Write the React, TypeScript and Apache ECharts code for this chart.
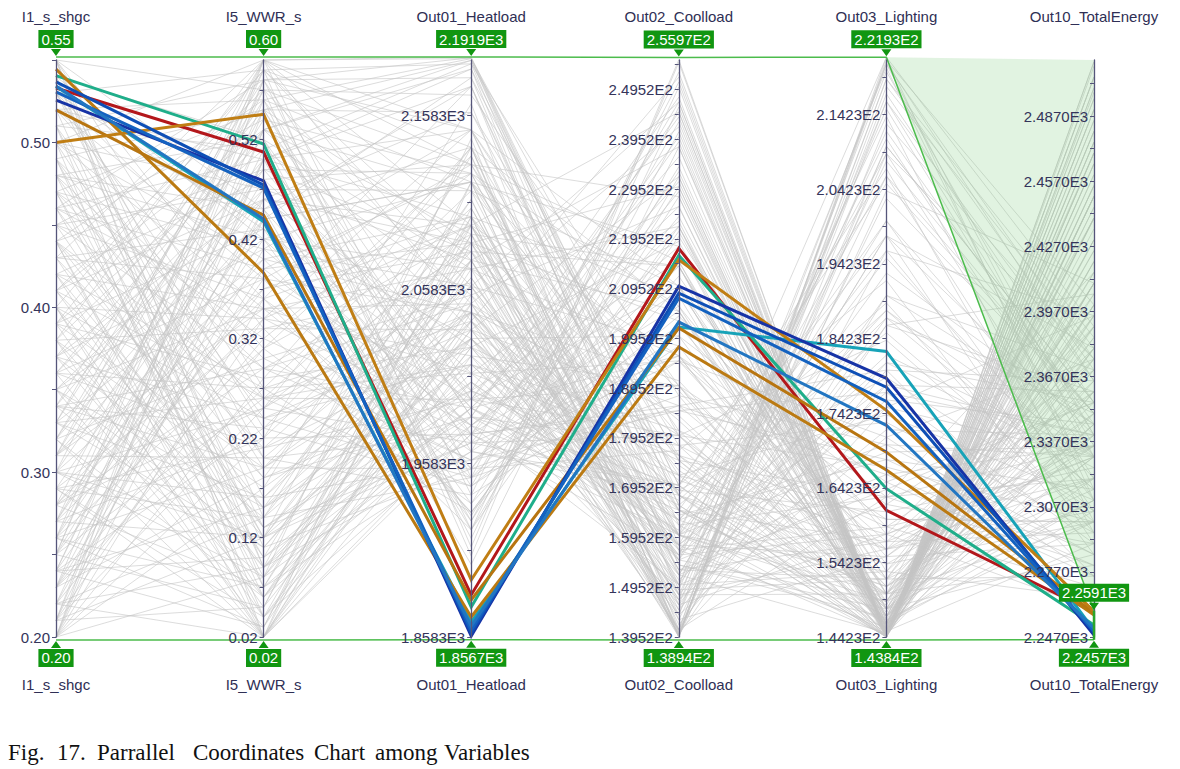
import React, { useEffect, useRef } from "react";
import * as echarts from "echarts";

// ---------- data ----------
const dimNames = ["I1_s_shgc", "I5_WWR_s", "Out01_Heatload", "Out02_Coolload", "Out03_Lighting", "Out10_TotalEnergy"];
const axisMin = [0.2, 0.02, 1858.3, 139.52, 144.23, 2247.0];
const axisMax = [0.55, 0.6, 2190.2, 255.45, 221.55, 2512.8];

const labelTicks = [
  [0.2, 0.3, 0.4, 0.5],
  [0.02, 0.12, 0.22, 0.32, 0.42, 0.52],
  [1858.3, 1958.3, 2058.3, 2158.3],
  [139.52, 149.52, 159.52, 169.52, 179.52, 189.52, 199.52, 209.52, 219.52, 229.52, 239.52, 249.52],
  [144.23, 154.23, 164.23, 174.23, 184.23, 194.23, 204.23, 214.23],
  [2247, 2277, 2307, 2337, 2367, 2397, 2427, 2457, 2487],
];
const allTicks = [
  [0.2, 0.25, 0.3, 0.35, 0.4, 0.45, 0.5, 0.55],
  [0.02, 0.07, 0.12, 0.17, 0.22, 0.27, 0.32, 0.37, 0.42, 0.47, 0.52, 0.57],
  [1858.3, 1908.3, 1958.3, 2008.3, 2058.3, 2108.3, 2158.3],
  [139.52, 144.52, 149.52, 154.52, 159.52, 164.52, 169.52, 174.52, 179.52, 184.52, 189.52, 194.52, 199.52, 204.52, 209.52, 214.52, 219.52, 224.52, 229.52, 234.52, 239.52, 244.52, 249.52, 254.52],
  [144.23, 149.23, 154.23, 159.23, 164.23, 169.23, 174.23, 179.23, 184.23, 189.23, 194.23, 199.23, 204.23, 209.23, 214.23, 219.23],
  [2247, 2262, 2277, 2292, 2307, 2322, 2337, 2352, 2367, 2382, 2397, 2412, 2427, 2442, 2457, 2472, 2487, 2502],
];

// filter (brush) limits shown in the green boxes
const filterMax = [0.5518, 0.603, 2191.9, 255.97, 221.93, 2259.1];
const filterMin = [0.1982, 0.017, 1856.7, 138.94, 143.84, 2245.7];

// highlighted (selected) designs
const highlightColors = ["#b3171b", "#1fae8a", "#17a3b8", "#bb7a12", "#b87510", "#c07e14", "#1733a6", "#0e4fb6", "#1462c0", "#2276c2"];
const highlightLines = [
  [0.533, 0.5075, 1882.5, 217.6, 161.2, 2258.5],
  [0.5405, 0.5156, 1875.6, 216.2, 164.1, 2252.5],
  [0.534, 0.4375, 1866.9, 201.8, 182.5, 2250.2],
  [0.5445, 0.386, 1869.8, 197.8, 166.6, 2257.1],
  [0.5197, 0.444, 1879.6, 201.6, 169.0, 2258.0],
  [0.5, 0.5454, 1891.1, 215.3, 174.6, 2258.8],
  [0.5257, 0.4784, 1858.9, 210.0, 178.9, 2247.9],
  [0.5367, 0.4743, 1860.6, 208.6, 177.7, 2249.3],
  [0.5306, 0.4713, 1862.3, 207.6, 175.8, 2249.8],
  [0.5342, 0.4402, 1864.6, 202.8, 172.6, 2251.1],
];

// background designs (grey)
const greyLines = [
  [0.21, 0.05, 2105, 152, 198, 2380], [0.34, 0.58, 2150, 181, 146, 2410], [0.47, 0.12, 1985, 170, 205, 2350],
  [0.29, 0.33, 2062, 163, 151, 2320], [0.53, 0.47, 1920, 232, 145, 2290], [0.24, 0.51, 2188, 158, 144.5, 2455],
  [0.42, 0.27, 2010, 176, 160, 2300], [0.38, 0.02, 2030, 141, 219, 2370], [0.26, 0.19, 2080, 147, 172, 2340],
  [0.5, 0.6, 1950, 251, 144.3, 2395], [0.31, 0.44, 2120, 189, 147, 2430], [0.45, 0.36, 1965, 205, 149, 2310],
  [0.2, 0.28, 2140, 143, 155, 2360], [0.55, 0.09, 1990, 167, 188, 2315], [0.36, 0.53, 2090, 214, 144.6, 2470],
  [0.28, 0.07, 2070, 140, 210, 2355], [0.49, 0.22, 1975, 186, 166, 2280], [0.33, 0.4, 2045, 184, 148, 2345],
  [0.23, 0.56, 2191, 166, 144.2, 2500], [0.41, 0.15, 2015, 158, 181, 2325], [0.52, 0.31, 1935, 212, 152, 2275],
  [0.27, 0.48, 2130, 172, 145, 2440], [0.44, 0.04, 2005, 149, 215, 2335], [0.3, 0.25, 2060, 156, 158, 2330],
  [0.39, 0.59, 2075, 238, 144.4, 2480], [0.22, 0.14, 2110, 142, 180, 2365], [0.54, 0.42, 1925, 228, 146, 2305],
  [0.35, 0.11, 2040, 155, 193, 2345], [0.46, 0.5, 1995, 236, 144.8, 2420], [0.25, 0.37, 2100, 160, 150, 2385],
  [0.32, 0.02, 2050, 139.6, 221, 2375], [0.48, 0.29, 1960, 195, 157, 2295], [0.2, 0.6, 2191.9, 170, 144.23, 2512],
  [0.43, 0.18, 2000, 172, 174, 2310], [0.37, 0.46, 2085, 203, 146, 2425], [0.51, 0.13, 1970, 180, 184, 2300],
  [0.28, 0.55, 2160, 178, 144.3, 2465], [0.4, 0.34, 2020, 190, 151, 2340], [0.24, 0.23, 2095, 150, 162, 2370],
  [0.55, 0.57, 1905, 255, 144.5, 2390], [0.34, 0.08, 2035, 145, 206, 2350], [0.47, 0.41, 1980, 218, 147, 2330],
  [0.21, 0.45, 2175, 157, 145.5, 2460], [0.3, 0.16, 2065, 151, 176, 2345], [0.53, 0.26, 1945, 204, 159, 2270],
  [0.38, 0.52, 2070, 222, 144.4, 2450], [0.26, 0.03, 2085, 139.8, 218, 2380], [0.44, 0.49, 1990, 231, 145.2, 2405],
  [0.32, 0.3, 2055, 168, 154, 2335], [0.49, 0.06, 1985, 161, 209, 2320], [0.23, 0.39, 2125, 155, 149, 2400],
  [0.41, 0.57, 2050, 242, 144.2, 2475], [0.36, 0.21, 2025, 164, 168, 2315], [0.52, 0.38, 1930, 221, 148, 2285],
  [0.27, 0.12, 2075, 146, 186, 2360], [0.45, 0.54, 1985, 240, 144.3, 2440], [0.2, 0.17, 2135, 140.5, 175, 2395],
  [0.39, 0.43, 2030, 200, 147, 2380], [0.31, 0.59, 2140, 205, 144.25, 2495], [0.5, 0.19, 1955, 188, 170, 2285],
  [0.35, 0.35, 2050, 180, 150, 2355], [0.22, 0.02, 2120, 139.52, 221.5, 2400], [0.54, 0.52, 1915, 246, 144.6, 2350],
  [0.29, 0.47, 2115, 180, 145.8, 2445], [0.43, 0.1, 2005, 160, 195, 2320], [0.33, 0.26, 2045, 165, 157, 2330],
  [0.48, 0.45, 1970, 229, 146, 2360], [0.25, 0.58, 2180, 175, 144.23, 2505], [0.4, 0.05, 2025, 150, 212, 2345],
  [0.55, 0.33, 1920, 220, 153, 2265], [0.28, 0.29, 2080, 158, 155, 2350], [0.37, 0.14, 2030, 157, 182, 2330],
  [0.46, 0.58, 2000, 248, 144.3, 2460], [0.21, 0.34, 2150, 149, 152, 2405], [0.42, 0.48, 2010, 223, 145.5, 2415],
  [0.3, 0.08, 2060, 143, 203, 2350], [0.51, 0.24, 1950, 200, 163, 2280], [0.34, 0.5, 2100, 208, 145, 2450],
  [0.24, 0.1, 2100, 141, 190, 2370], [0.47, 0.32, 1975, 206, 154, 2300], [0.38, 0.6, 2095, 245, 144.23, 2490],
  [0.26, 0.42, 2120, 165, 147, 2420], [0.53, 0.16, 1960, 185, 177, 2290], [0.31, 0.2, 2060, 155, 166, 2335],
  [0.44, 0.26, 1995, 190, 160, 2300], [0.2, 0.5, 2185, 152, 144.8, 2475], [0.36, 0.38, 2045, 191, 149, 2370],
  [0.49, 0.55, 1965, 247, 144.4, 2420], [0.27, 0.22, 2085, 153, 164, 2355], [0.4, 0.02, 2020, 144, 220, 2340],
  [0.52, 0.44, 1935, 234, 146, 2320], [0.23, 0.27, 2115, 148, 156, 2380], [0.45, 0.13, 1995, 166, 185, 2305],
  [0.33, 0.56, 2120, 218, 144.3, 2485], [0.29, 0.04, 2075, 140, 216, 2365], [0.54, 0.2, 1940, 195, 171, 2275],
  [0.39, 0.28, 2025, 178, 156, 2320], [0.22, 0.41, 2150, 154, 148, 2425], [0.48, 0.08, 1980, 165, 200, 2305],
  [0.35, 0.47, 2075, 205, 146, 2435], [0.25, 0.6, 2191, 180, 144.23, 2510], [0.43, 0.38, 1995, 210, 150, 2345],
  [0.3, 0.12, 2065, 147, 187, 2350], [0.51, 0.51, 1945, 243, 145, 2375], [0.37, 0.24, 2035, 169, 161, 2325],
  [0.2, 0.08, 2145, 139.6, 204, 2410], [0.46, 0.18, 1985, 178, 173, 2295], [0.32, 0.53, 2115, 210, 144.4, 2470],
  [0.55, 0.02, 1975, 160, 221.9, 2310], [0.28, 0.36, 2095, 168, 150, 2390], [0.41, 0.53, 2035, 232, 144.5, 2445],
  [0.24, 0.15, 2095, 145, 178, 2360], [0.5, 0.4, 1955, 224, 148, 2310], [0.34, 0.19, 2045, 160, 169, 2335],
  [0.38, 0.09, 2030, 152, 198, 2340], [0.21, 0.53, 2190, 162, 144.3, 2490], [0.47, 0.25, 1970, 196, 162, 2290],
  [0.26, 0.31, 2090, 160, 153, 2365], [0.53, 0.59, 1910, 255.5, 144.23, 2410], [0.42, 0.06, 2015, 155, 211, 2330],
  [0.22, 0.31, 2135, 150, 153, 2395], [0.36, 0.03, 2040, 140.2, 217, 2355], [0.5, 0.35, 1950, 214, 150, 2300],
  [0.27, 0.57, 2170, 190, 144.23, 2498], [0.44, 0.15, 2000, 169, 179, 2305], [0.31, 0.39, 2085, 183, 148, 2395],
  [0.54, 0.07, 1965, 170, 207, 2295], [0.2, 0.22, 2165, 141, 163, 2415], [0.41, 0.46, 2025, 219, 145.6, 2400],
  [0.33, 0.11, 2050, 150, 190, 2345], [0.47, 0.55, 1985, 245, 144.3, 2430], [0.25, 0.26, 2105, 153, 157, 2375],
  [0.39, 0.19, 2030, 163, 170, 2330], [0.52, 0.5, 1925, 241, 145.2, 2340], [0.29, 0.02, 2090, 139.52, 221.93, 2390],
  [0.35, 0.42, 2070, 196, 147.5, 2410], [0.43, 0.6, 2040, 252, 144.23, 2470], [0.21, 0.12, 2140, 140, 186, 2405],
  [0.49, 0.3, 1960, 202, 155, 2290], [0.3, 0.49, 2125, 190, 145.3, 2455], [0.55, 0.45, 1900, 238, 146.5, 2300],
  [0.26, 0.07, 2090, 140.8, 209, 2375], [0.38, 0.33, 2035, 186, 152, 2350], [0.46, 0.1, 1990, 163, 196, 2310],
  [0.23, 0.46, 2160, 165, 146, 2450], [0.4, 0.24, 2015, 175, 163, 2320], [0.32, 0.57, 2130, 215, 144.23, 2490],
  [0.51, 0.04, 1975, 156, 214, 2300], [0.28, 0.4, 2100, 173, 148.5, 2415], [0.45, 0.47, 1990, 226, 145.8, 2385],
  [0.2, 0.36, 2175, 148, 150, 2440], [0.37, 0.06, 2035, 148, 208, 2350], [0.53, 0.36, 1930, 222, 150, 2280],
  [0.34, 0.29, 2050, 171, 156, 2340], [0.24, 0.53, 2185, 170, 144.3, 2485], [0.42, 0.13, 2005, 163, 187, 2315],
  [0.3, 0.6, 2150, 210, 144.23, 2505], [0.48, 0.2, 1975, 185, 168, 2285], [0.22, 0.09, 2120, 140.3, 196, 2395],
  [0.39, 0.51, 2055, 226, 144.5, 2455], [0.55, 0.27, 1930, 210, 158, 2260], [0.27, 0.34, 2095, 165, 151, 2375],
  [0.44, 0.56, 1995, 244, 144.3, 2450], [0.33, 0.16, 2045, 156, 177, 2340], [0.5, 0.02, 1980, 150, 220.5, 2315],
  [0.25, 0.45, 2140, 168, 146, 2440], [0.36, 0.27, 2040, 172, 158, 2335], [0.46, 0.39, 1980, 214, 148, 2330],
  [0.21, 0.58, 2191.5, 168, 144.23, 2512], [0.41, 0.09, 2010, 156, 200, 2330], [0.29, 0.21, 2075, 152, 165, 2355],
  [0.52, 0.56, 1920, 250, 144.4, 2380], [0.35, 0.02, 2045, 141, 221.2, 2365], [0.43, 0.43, 2000, 215, 147, 2365],
  [0.23, 0.18, 2110, 144, 171, 2375], [0.48, 0.52, 1975, 239, 144.6, 2410], [0.31, 0.35, 2070, 176, 150, 2370],
  [0.54, 0.11, 1955, 177, 192, 2285], [0.26, 0.5, 2150, 176, 145, 2465], [0.38, 0.17, 2030, 160, 175, 2330],
  [0.45, 0.29, 1990, 196, 156, 2305], [0.2, 0.44, 2180, 154, 146.8, 2470], [0.32, 0.06, 2055, 144, 210, 2355],
  [0.5, 0.47, 1955, 233, 145.4, 2360], [0.28, 0.25, 2085, 157, 159, 2360], [0.4, 0.59, 2060, 247, 144.23, 2480],
  [0.53, 0.23, 1945, 198, 165, 2275], [0.24, 0.03, 2100, 139.7, 219, 2385], [0.37, 0.41, 2060, 198, 148, 2400],
  [0.47, 0.07, 1990, 158, 206, 2310], [0.22, 0.5, 2175, 160, 145, 2480], [0.34, 0.23, 2045, 162, 163, 2335],
  [0.51, 0.58, 1940, 253, 144.23, 2400], [0.29, 0.14, 2075, 148, 181, 2355], [0.42, 0.35, 2010, 195, 151, 2335],
  [0.26, 0.59, 2188, 188, 144.23, 2500], [0.49, 0.12, 1970, 170, 189, 2295], [0.36, 0.49, 2080, 214, 145.4, 2450],
  [0.21, 0.25, 2140, 146, 158, 2390], [0.44, 0.21, 1995, 180, 167, 2300], [0.31, 0.54, 2125, 206, 144.5, 2475],
  [0.55, 0.14, 1950, 186, 180, 2275], [0.27, 0.44, 2120, 175, 146.5, 2430], [0.39, 0.04, 2025, 146, 216, 2340],
  [0.46, 0.34, 1980, 209, 152, 2315], [0.23, 0.32, 2125, 153, 152, 2390], [0.33, 0.6, 2130, 228, 144.23, 2495],
  [0.52, 0.09, 1965, 168, 198, 2290], [0.3, 0.37, 2080, 174, 149, 2380], [0.41, 0.26, 2015, 181, 159, 2320],
  [0.25, 0.05, 2095, 140, 213, 2375], [0.48, 0.42, 1975, 222, 147, 2345], [0.35, 0.15, 2040, 158, 178, 2340],
  [0.2, 0.55, 2190, 166, 144.23, 2505], [0.44, 0.02, 2000, 147, 221, 2330], [0.37, 0.55, 2085, 230, 144.4, 2465],
  [0.53, 0.43, 1928, 230, 146.4, 2310], [0.24, 0.38, 2130, 160, 149, 2410], [0.4, 0.12, 2020, 160, 188, 2330],
  [0.32, 0.46, 2095, 196, 146.2, 2440],
];

const captionWords = ["Fig.", "17.", "Parrallel", "Coordinates", "Chart", "among", "Variables"];

// ---------- layout ----------
const W = 1180;
const H = 769;
const LEFT = 56;
const RIGHT_X = 1094;
const TOP = 60;
const BOTTOM_Y = 637;
const PLOT_H = BOTTOM_Y - TOP;
const captionX = [8, 57, 97, 193, 314, 375, 444];

const axisX = (i: number) => LEFT + (i * (RIGHT_X - LEFT)) / (dimNames.length - 1);
const valY = (i: number, v: number) => TOP + ((axisMax[i] - v) / (axisMax[i] - axisMin[i])) * PLOT_H;
const fmt = (i: number, v: number) =>
  i < 2 ? Number(v).toFixed(2) : Number(v).toExponential(4).replace("e+", "E").toUpperCase();

const GREEN = "#119611";
const AXIS_COLOR = "#55557a";
const LABEL_FONT = "Liberation Sans";

function greenBox(i: number, value: number, above: boolean): any[] {
  const x = axisX(i);
  const py = valY(i, value);
  const cy = above ? py - 18 : py + 18;
  const tipBase = above ? py - 8 : py + 8;
  const tip = above ? py - 1 : py + 1;
  return [
    {
      type: "polygon",
      z: 20,
      silent: true,
      shape: { points: [[x - 5, tipBase], [x + 5, tipBase], [x, tip]] },
      style: { fill: GREEN },
    },
    {
      type: "text",
      z: 21,
      silent: true,
      x,
      y: cy,
      style: {
        text: fmt(i, value),
        fill: "#ffffff",
        fontSize: 15,
        fontFamily: LABEL_FONT,
        align: "center",
        verticalAlign: "middle",
        backgroundColor: GREEN,
        padding: [2, 3, 1, 3],
      },
    },
  ];
}

export default function App() {
  const ref = useRef<HTMLDivElement>(null);

  useEffect(() => {
    if (!ref.current) return;
    const chart = echarts.init(ref.current, null, { renderer: "svg" });

    const parallelAxis = dimNames.map((name, i) => ({
      dim: i,
      name: "",
      min: axisMin[i],
      max: axisMax[i],
      axisLine: { show: true, lineStyle: { color: AXIS_COLOR, width: 1.3 } },
      axisTick: { show: true, length: -4, customValues: allTicks[i], lineStyle: { color: AXIS_COLOR, width: 1 } },
      axisLabel: {
        show: true,
        customValues: labelTicks[i],
        margin: -6,
        align: "right",
        color: "#34345a",
        fontSize: 15,
        fontFamily: LABEL_FONT,
        formatter: (v: number) => fmt(i, v),
      },
      splitLine: { show: false },
    }));

    const graphics: any[] = [];
    // shaded region excluded by the Out10 filter
    graphics.push({
      type: "polygon",
      z: 2,
      silent: true,
      shape: {
        points: [
          [axisX(4), valY(4, filterMax[4])],
          [axisX(5), TOP],
          [axisX(5), valY(5, filterMax[5])],
        ],
      },
      style: { fill: "rgba(130,205,130,0.24)" },
    });
    // green segment on Out10 axis
    graphics.push({
      type: "line",
      z: 19,
      silent: true,
      shape: { x1: axisX(5), y1: valY(5, filterMax[5]), x2: axisX(5), y2: valY(5, filterMin[5]) },
      style: { stroke: "#2aa52a", lineWidth: 2.5 },
    });
    dimNames.forEach((name, i) => {
      graphics.push({
        type: "text",
        z: 20,
        silent: true,
        x: axisX(i),
        y: 16,
        style: { text: name, fill: "#2f2f55", fontSize: 15, fontFamily: LABEL_FONT, align: "center", verticalAlign: "middle" },
      });
      graphics.push({
        type: "text",
        z: 20,
        silent: true,
        x: axisX(i),
        y: 684,
        style: { text: name, fill: "#2f2f55", fontSize: 15, fontFamily: LABEL_FONT, align: "center", verticalAlign: "middle" },
      });
      graphics.push(...greenBox(i, filterMax[i], true));
      graphics.push(...greenBox(i, filterMin[i], false));
    });
    captionWords.forEach((w, k) => {
      graphics.push({
        type: "text",
        z: 20,
        silent: true,
        x: captionX[k],
        y: 752,
        style: { text: w, fill: "#111111", fontSize: 23, fontFamily: "Liberation Serif", align: "left", verticalAlign: "middle" },
      });
    });

    chart.setOption({
      animation: false,
      backgroundColor: "#ffffff",
      parallel: {
        left: LEFT,
        right: W - RIGHT_X,
        top: TOP,
        bottom: H - BOTTOM_Y,
        layout: "horizontal",
      },
      parallelAxis,
      series: [
        {
          type: "parallel",
          z: 1,
          silent: true,
          smooth: false,
          lineStyle: { color: "#c4c4c4", width: 1, opacity: 0.6 },
          data: greyLines,
        },
        {
          type: "parallel",
          z: 3,
          silent: true,
          smooth: false,
          lineStyle: { width: 3, opacity: 1 },
          data: highlightLines.map((v, k) => ({ value: v, lineStyle: { color: highlightColors[k], width: 3, opacity: 1 } })),
        },
        {
          type: "parallel",
          z: 4,
          silent: true,
          smooth: false,
          lineStyle: { color: "#4cbc4c", width: 1.5, opacity: 1 },
          data: [filterMax, filterMin],
        },
      ],
      graphic: graphics,
    });

    return () => chart.dispose();
  }, []);

  return <div ref={ref} style={{ position: "fixed", left: 0, top: 0, width: W, height: H }} />;
}
